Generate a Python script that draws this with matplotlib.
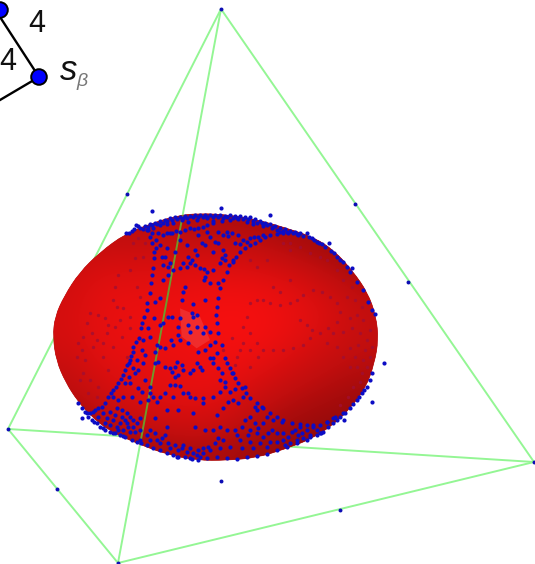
import numpy as np
import matplotlib
matplotlib.use("Agg")
import matplotlib.pyplot as plt
from matplotlib.colors import LinearSegmentedColormap
from matplotlib.patches import Polygon, Circle, PathPatch
from matplotlib.path import Path
from matplotlib.transforms import Affine2D

plt.rcParams['font.family'] = ['Liberation Sans', 'DejaVu Sans']

# ---- data (picture pixels) ----
verts = dict(top=(221, 9), left=(8, 429), right=(534, 462), bottom=(118, 563))
edge_back = [('left', 'right'), ('top', 'left')]
edge_side = [('top', 'right'), ('left', 'bottom'), ('bottom', 'right')]
edge_front = [('top', 'bottom')]
mid_points = [(127, 194), (355, 204), (408, 282), (57, 489), (340, 510), (221, 481)]

# sphere brightness read on a grid over its bounding box
shade = [
    [.55, .55, .55, .55, .50, .50, .45, .40, .40],
    [.65, .70, .70, .70, .70, .65, .55, .45, .40],
    [.72, .85, .85, .88, .90, .90, .82, .65, .50],
    [.75, .90, .93, .95, 1.0, 1.0, .92, .80, .62],
    [.75, .90, .93, .95, 1.0, 1.0, .90, .75, .62],
    [.65, .85, .88, .90, .95, .90, .75, .62, .55],
    [.55, .72, .82, .88, .88, .72, .58, .50, .42],
    [.40, .55, .68, .72, .72, .55, .45, .38, .35],
    [.30, .35, .42, .48, .48, .42, .35, .30, .30],
]

# all below in units of a 3x view of the sphere's region
outline = [(450,40),(380,47),(300,72),(225,102),(150,157),(88,218),(43,288),(15,350),(9,410),(19,482),(47,547),(83,603),(123,648),(178,693),(268,733),(350,763),(440,781),(530,781),(620,773),(702,748),(782,718),(852,673),(903,622),(948,562),(973,490),(985,420),(978,348),(953,278),(908,213),(853,152),(792,112),(702,82),(620,59),(540,45)]
rim_top = [(228,100),(245,92),(258,76),(270,85),(285,78),(300,72),(315,68),(330,62),(345,60),(360,55),(375,52),(390,50),(405,48),(420,47),(435,45),(450,46),(465,44),(480,44),(495,46),(510,45),(525,47),(540,45),(555,48),(570,47),(585,50),(600,52),(615,58),(630,62),(645,68),(660,72),(675,78),(690,85),(705,88),(720,92),(735,97),(750,100),(770,100),(785,115),(800,125),(815,133),(838,130),(852,160),(870,180),(905,205),(890,200),(880,185),(900,215),(920,245),(940,270),(955,305),(965,330),
           (290,90),(310,85),(330,75),(350,72),(370,70),(395,60),(415,65),(440,60),(470,55),(490,62),(515,62),(540,60),(565,58),(590,65),(610,72),(640,78),(665,85),(690,95),(715,100),(740,102),
           (237,100),(252,88),(265,78),(278,88),(293,80),(307,76),(322,72),(338,68),(352,64),(367,60),(382,58),(398,54),(412,54),(428,52),(444,52),(458,52),(472,50),(488,52),(503,52),(518,54),(532,52),(548,54),(562,54),(578,56),(594,58),(608,64),(622,68),(636,70),(652,76),(668,80),(682,90),(698,92),(712,96),(728,100),(744,106),(760,108),(778,110),(792,120),(808,130),(826,142),(842,152),(860,170)]
outliers = [(307,32),(513,25),(660,46),(975,342),(95,655),(883,660),(965,606),(1003,490)]
band_left = [(295,90),(300,110),(305,130),(312,155),(312,175),(310,205),(305,225),(303,250),(300,280),(290,310),(290,330),(283,350),(275,370),(272,385),(268,415),(258,425),(248,455),(240,480),(232,495),(220,525),(205,550),(190,570),(175,590),(165,610),(145,625),(130,635),(244,468),(236,488),(226,510),(212,538),(198,560),(183,580)]
band_right = [(700,100),(680,102),(660,105),(645,112),(630,120),(615,128),(600,135),(585,145),(570,155),(558,170),(548,185),(530,215),(520,240),(510,265),(505,295),(500,320),(497,345),(500,370),(505,400),(515,435),(525,475),(540,505),(555,535),(575,565),(600,595),(620,610),(640,625),(660,638),(680,650),(700,660),(725,670),(750,672),(770,675),(790,676),(810,675),(830,665),(850,655),(880,640),(532,490),(548,520),(565,550),(588,580)]
band_inner = [(305,100),(318,120),(340,105),(365,98),(390,95),(420,85),(445,85),(470,75),(490,70),(530,95),(545,100),(565,105),(580,120),(600,115),(625,110),(445,105),(480,110),(495,125),(455,130),(465,135),(490,155),(435,150),(440,165),(415,170),(425,180),(410,200),(390,205),(370,210),(355,200),(340,195),(350,145),(335,170),(345,170),(375,155),(390,120),(410,135),(520,150),(525,165),(515,175),(550,180),(525,180),(490,210),(470,215),(450,205),(435,195),(465,230),(462,240),(480,250),(405,260),(400,275),(395,300),(465,300),(428,312),(340,240),(355,225),(330,295),(440,345),(430,350),(425,340),(355,350),(365,350),(390,355),(312,355),(340,370),(330,375),(295,385),(300,410),(385,380),(385,405),(415,375),(440,380),(465,380),(480,395),(390,420),(370,435),(345,445),(330,440),(415,430),(445,455),(465,450),(480,435),(495,425),(280,420),(275,450),(285,465),(280,490),(315,455),(315,490),(325,485),(265,510),(255,520),(240,550),(225,548),(265,565),(275,575),(300,580),(345,500),(360,505),(380,485),(400,510),(375,530),(385,525),(480,475),(440,490),(430,510),(455,510),(420,520),(490,490),(505,505),(515,520),(525,545),(545,520),(360,555),(375,555),(390,558),(345,580),(330,590),(400,580),(420,590),(435,595),(460,595),(490,590),(510,575),(525,560),(540,575),(555,568),(585,560),(320,605),(270,605),(245,590),(220,590),(205,600),(190,590),(295,600),(350,630),(385,630),(430,640),(460,610),(535,605),(565,610),(520,625),(500,645),(615,620),(635,620),
              (325,100),(352,100),(378,92),(405,90),(432,88),(458,80),(505,95),(520,105),(555,128),(570,132),(590,125),(612,112),(640,105),(470,95),(505,130),(535,108),(330,135),(318,145),(360,190),(398,190),(420,190),(462,208),(510,190),(538,195),(505,250),(360,100),(315,305),(420,395),(362,420),(320,435),(460,400),(500,460),(490,475),(375,500),(395,495),(365,515),(250,440),(262,480),(248,505),(238,530),(285,540),(300,560),(370,590),(450,500),(510,540),(580,590),(550,600),(310,590),(415,580)]
band_bottom = [(120,640),(135,630),(155,620),(160,640),(180,635),(200,625),(215,630),(240,650),(230,640),(250,660),(270,655),(170,655),(190,660),(210,670),(230,670),(250,680),(270,690),(180,675),(200,680),(220,690),(240,695),(315,655),(350,680),(300,690),(315,700),(335,715),(355,730),(375,735),(395,745),(410,755),(430,760),(445,750),(460,745),(475,740),(495,730),(520,720),(435,680),(465,690),(490,690),(510,680),(530,690),(555,690),(575,680),(585,660),(600,650),(620,630),(650,650),(670,660),(695,665),(640,670),(615,670),(600,690),(620,700),(640,710),(665,690),(680,700),(715,710),(735,690),(750,680),(770,690),(790,680),(810,700),(740,720),(720,730),(700,720),(660,725),(630,730),(600,725),(570,720),(540,740),(510,745),(480,750),(450,770),(420,775),(380,770),(360,745),(330,730),(300,720),(270,720),(855,650),(830,665),(800,690),(780,705),(760,715),
               (145,650),(165,668),(195,645),(215,650),(225,660),(260,670),(205,690),(235,680),(255,695),(290,705),(320,720),(345,705),(385,750),(400,735),(420,745),(440,765),(460,760),(505,715),(560,705),(595,705),(625,685),(655,700),(700,700),(725,695),(755,700),(745,705),(705,735),(680,725),(650,740),(610,745),(575,745)]
rim_bottom = [(85,610),(95,625),(105,635),(115,650),(125,660),(140,670),(150,680),(165,690),(180,695),(195,700),(210,705),(225,712),(245,720),(260,725),(272,730),(290,735),(310,745),(330,750),(350,760),(370,765),(385,772),(405,770),(425,778),(445,780),(470,775),(500,772),(530,775),(560,778),(590,772),(620,768),(650,762),(680,750),(710,740),(740,730),(770,720),(800,705),(820,695),(850,670),(870,650),(900,625),(920,600),(935,580),(950,560),(960,540),(965,520),
              (110,640),(132,665),(158,685),(188,698),(218,708),(780,712),(812,700),(835,680),(860,660),(885,640),(910,612),(928,590),(942,570)]
dim_left = [(120,340),(110,370),(100,410),(95,450),(105,480),(100,520),(120,540),(145,560),(175,510),(160,470),(130,440),(170,400),(195,380),(210,360),(200,320),(190,300),(195,260),(205,225),(190,440),(230,470),(215,410),(240,385),(145,345),(165,355),(175,375),(125,400),(140,420),(160,430),(85,430),(80,470),(90,540),(115,580),(140,590),(250,130),(265,115),(285,130),(280,170),(255,175),(240,210),(260,260),(270,290),(220,325),(240,350)]
dim_right = [(600,310),(620,300),(640,300),(660,310),(690,315),(720,310),(740,300),(760,285),(790,270),(815,275),(840,290),(860,310),(870,335),(860,365),(835,385),(810,400),(785,390),(770,375),(750,360),(780,415),(760,435),(730,445),(700,450),(670,450),(640,450),(620,430),(600,400),(580,380),(590,350),(625,470),(600,500),(700,130),(720,150),(750,140),(780,160),(810,170),(830,180),(860,210),(880,240),(905,260),(650,180),(720,240),(690,275),(670,260),(850,400),(880,395),(905,385),(930,400),(950,420),(965,440),(960,470),(940,480),(915,470),(900,445),(925,435),(945,450),(920,500),(935,520),(950,500),(900,500),(960,390),(940,360),(920,345),(900,355),(935,320),(915,300),(890,290),(830,430),(860,440),(880,470),(930,545),(910,560),(895,590),(870,615),(720,130),(600,180),(620,200),(520,450),(570,450),(580,430),(545,415),(560,470),(555,495),(600,450)]
highlight = [(390,325),(450,350),(480,420),(440,445),(395,410)]

graph_lines = [((0, 17), (39, 77)), ((39, 77), (0, 100))]
graph_nodes = [(39, 77), (0, 10)]
graph_labels = [("4", 37, 24), ("4", 8, 62)]

# ---- drawing ----
GREEN = '#94f694'
fig = plt.figure(figsize=(5.35, 5.64), dpi=100)
ax = fig.add_axes([0, 0, 1, 1])
ax.set_xlim(0, 535); ax.set_ylim(564, 0); ax.axis('off')
view = Affine2D().scale(1/3).translate(50, 200) + ax.transData

def edge(a, b, **kw):
    (x0, y0), (x1, y1) = verts[a], verts[b]
    return ax.plot([x0, x1], [y0, y1], solid_capstyle='round', **kw)[0]

for a, b in edge_back + edge_side + edge_front:
    edge(a, b, color=GREEN, lw=1.4, zorder=1)

# smooth closed curve with the outline points as control points
pts = np.array(outline, dtype=float)
next_pts = np.roll(pts, -1, axis=0)
mids_o = (pts + next_pts) / 2
path_v = [mids_o[-1]]
path_c = [Path.MOVETO]
for p, m in zip(pts, mids_o):
    path_v += [p, m]
    path_c += [Path.CURVE3, Path.CURVE3]
ball = PathPatch(Path(path_v, path_c), facecolor='#c00e0e', edgecolor='#b00e0e', lw=.5,
                 transform=view, zorder=2)
ax.add_patch(ball)
cmap = LinearSegmentedColormap.from_list('ball', ['#780808', '#c00e0e', '#f51010'])
im = ax.imshow(shade, cmap=cmap, vmin=0.2, vmax=1, extent=(50, 382, 464, 210),
               interpolation='bicubic', aspect='auto', zorder=2.1)
im.set_clip_path(ball)
ax.set_xlim(0, 535); ax.set_ylim(564, 0)

ax.add_patch(Polygon(highlight, closed=True, facecolor='white', alpha=.12, edgecolor='none',
                     transform=view, zorder=3))

dim = np.array(dim_left + dim_right)
ax.scatter(dim[:, 0], dim[:, 1], s=6, color='#a00f34', alpha=.8, linewidths=0, transform=view, zorder=3)

for a, b in edge_front:
    line = edge(a, b, color='#6f9a2a', lw=1.4, zorder=4)
    line.set_clip_path(ball)

blue = np.array(rim_top + outliers + band_left + band_right + band_inner + band_bottom + rim_bottom)
ax.scatter(blue[:, 0], blue[:, 1], s=9, color='#0c0cc4', linewidths=0, transform=view, zorder=5)

mids = np.array(mid_points + [verts[k] for k in verts])
ax.scatter(mids[:, 0], mids[:, 1], s=8, color='#0c0cb4', linewidths=0, zorder=5)

# small graph in the corner
for (x0, y0), (x1, y1) in graph_lines:
    ax.plot([x0, x1], [y0, y1], color='black', lw=1.7, zorder=6)
for x, y in graph_nodes:
    ax.add_patch(Circle((x, y), 7.8, facecolor='#0000ff', edgecolor='black', lw=1.4, zorder=7))
for s, x, y in graph_labels:
    ax.text(x, y, s, fontsize=22, ha='center', va='center', color='#111111', zorder=8)
ax.text(60, 70, 's', fontsize=25, style='italic', ha='left', va='center', color='#111111', zorder=8)
ax.text(76, 81, 'β', fontsize=14, style='italic', ha='left', va='center', color='#777777', zorder=8)

fig.savefig('out.png', dpi=100)
